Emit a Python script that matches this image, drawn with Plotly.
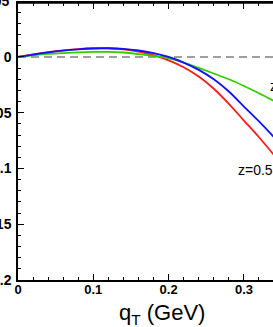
import plotly.graph_objects as go

qT = [0.00, 0.02, 0.04, 0.06, 0.08, 0.10, 0.12, 0.14, 0.16, 0.18,
      0.20, 0.22, 0.24, 0.26, 0.28, 0.30, 0.32, 0.34]
red = [0.0, 0.0023, 0.0043, 0.0059, 0.0071, 0.0078, 0.0078, 0.0068, 0.0048, 0.0017,
       -0.0030, -0.0092, -0.0176, -0.0285, -0.0420, -0.0570, -0.0720, -0.0880]
blue = [0.0, 0.0022, 0.0041, 0.0057, 0.0069, 0.0076, 0.0078, 0.0073, 0.0058, 0.0034,
        0.0000, -0.0050, -0.0116, -0.0200, -0.0310, -0.0445, -0.0578, -0.0720]
green = [0.0, 0.0015, 0.0027, 0.0035, 0.0041, 0.0045, 0.0046, 0.0040, 0.0026, 0.0008,
         -0.0012, -0.0050, -0.0098, -0.0148, -0.0200, -0.0260, -0.0325, -0.0395]

y_ticks = [-0.2, -0.15, -0.1, -0.05, 0]
y_ticktext = ["-0.2", "-0.15", "-0.1", "-0.05", "0"]
y_top_tick = 0.05
y_top_text = "0.05"
x_ticks = [0, 0.1, 0.2, 0.3]
x_ticktext = ["0", "0.1", "0.2", "0.3"]

FONT = "Liberation Sans, Arial, Helvetica, sans-serif"
Y_RANGE = [-0.2, 0.0484]
X_RANGE = [0, 0.3386]

fig = go.Figure()
fig.add_trace(go.Scatter(x=qT, y=red, mode="lines", line=dict(color="#ff1a1a", width=1.8, shape="spline"), showlegend=False))
fig.add_trace(go.Scatter(x=qT, y=green, mode="lines", line=dict(color="#33cc00", width=1.8, shape="spline"), showlegend=False))
fig.add_trace(go.Scatter(x=qT, y=blue, mode="lines", line=dict(color="#1010ff", width=1.8, shape="spline"), showlegend=False))
# invisible trace to activate the top axis
fig.add_trace(go.Scatter(x=[qT[0]], y=[blue[0]], xaxis="x2", mode="markers", marker=dict(opacity=0), showlegend=False, hoverinfo="skip"))

fig.add_shape(type="line", xref="paper", yref="y", x0=0, x1=1, y0=0, y1=0,
              line=dict(color="#808080", width=1.5, dash="8px,5px"), layer="below")
# top frame line
fig.add_shape(type="line", xref="paper", yref="paper", x0=0, x1=1, y0=1, y1=1,
              line=dict(color="black", width=1.5), layer="above")

top_paper = (y_top_tick - Y_RANGE[0]) / (Y_RANGE[1] - Y_RANGE[0])
fig.add_annotation(text=y_top_text, x=0, y=top_paper, xref="paper", yref="paper", xanchor="right", yanchor="middle",
                   xshift=-7, showarrow=False, font=dict(family=FONT, size=14, color="black", weight="bold"))
fig.add_annotation(text="z=0.3", x=0.332, y=-0.026, xref="x", yref="y", xanchor="left", yanchor="middle",
                   showarrow=False, font=dict(family=FONT, size=14, color="black"))
fig.add_annotation(text="z=0.5", x=0.2895, y=-0.1013, xref="x", yref="y", xanchor="left", yanchor="middle",
                   showarrow=False, font=dict(family=FONT, size=14, color="black"))
fig.add_annotation(text="q<sub>T</sub> (GeV)", x=0.565, y=-0.121, xref="paper", yref="paper",
                   xanchor="center", yanchor="middle", showarrow=False,
                   font=dict(family=FONT, size=22, color="black"))

common_x = dict(range=X_RANGE, tickvals=x_ticks,
                ticks="inside", ticklen=6, tickwidth=1.2, tickcolor="black",
                showline=True, linecolor="black", linewidth=1.5,
                showgrid=False, zeroline=False, automargin=False,
                minor=dict(dtick=0.02, tick0=0, ticks="inside", ticklen=3, tickwidth=1, tickcolor="black", showgrid=False))

fig.update_layout(
    xaxis=dict(**common_x, ticktext=x_ticktext, ticklabelstandoff=-3,
               tickfont=dict(family=FONT, size=13, color="black", weight="bold")),
    xaxis2=dict(**common_x, overlaying="x", side="top", anchor="y", showticklabels=False),
    yaxis=dict(range=Y_RANGE, tickvals=y_ticks, ticktext=y_ticktext,
               ticks="inside", ticklen=6, tickwidth=1.2, tickcolor="black",
               showline=True, linecolor="black", linewidth=1.5, mirror=False,
               showgrid=False, zeroline=False, automargin=False, ticklabelstandoff=2,
               minor=dict(dtick=0.01, tick0=0, ticks="inside", ticklen=3, tickwidth=1, tickcolor="black", showgrid=False),
               tickfont=dict(family=FONT, size=14, color="black", weight="bold")),
    width=273, height=327, margin=dict(l=18, r=0, t=3, b=47),
    paper_bgcolor="white", plot_bgcolor="white")

fig.write_html("out.html", config={"displayModeBar": False},
               post_script="document.body.style.margin='0px';document.body.style.overflow='hidden';")
